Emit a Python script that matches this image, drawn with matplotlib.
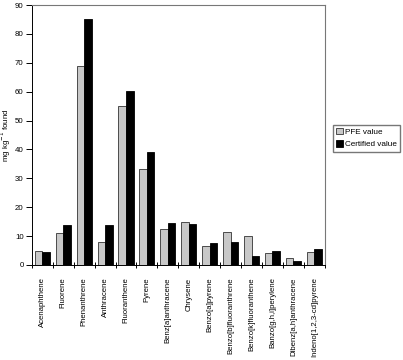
import numpy as np
import matplotlib.pyplot as plt

plt.rcParams['font.family'] = ['Liberation Sans', 'DejaVu Sans']

compounds = ['Acenaphthene', 'Fluorene', 'Phenanthrene', 'Anthracene', 'Fluoranthene',
             'Pyrene', 'Benz[a]anthracene', 'Chrysene', 'Benzo[a]pyrene',
             'Benzo[b]fluoranthrene', 'Benzo[k]fluoranthene', 'Banzo[g,h,i]perylene',
             'Dibenz[a,h]anthracene', 'Indeno[1,2,3-cd]pyrene']
pfe = [5.0, 11.0, 69.0, 8.0, 55.0, 33.4, 12.5, 15.0, 6.5, 11.3, 10.0, 4.3, 2.5, 4.5]
certified = [4.5, 14.0, 85.3, 14.0, 60.2, 39.2, 14.5, 14.3, 7.5, 8.0, 3.0, 5.0, 1.3, 5.6]

fig = plt.figure(figsize=(4.03, 3.6), dpi=100)
ax = fig.add_axes([0.079, 0.264, 0.727, 0.722])

x = np.arange(len(compounds))
w = 0.36
ax.bar(x - w / 2, pfe, w, color='#c8c8c8', edgecolor='#333333', linewidth=0.6, label='PFE value')
ax.bar(x + w / 2, certified, w, color='black', edgecolor='black', linewidth=0.6, label='Certified value')

ax.set_xlim(-0.5, len(compounds) - 0.5)
ax.set_ylim(0, 90)
ax.set_yticks(range(0, 91, 10))
ax.tick_params(axis='y', labelsize=5.7, length=4, width=0.7, pad=2)
ax.set_xticks(x)
ax.set_xticklabels(compounds, rotation=90, fontsize=5.6)
ax.tick_params(axis='x', length=0, pad=9)
ax.set_xticks(np.arange(-0.5, len(compounds) + 0.5, 1), minor=True)
ax.tick_params(axis='x', which='minor', length=5, direction='inout', width=0.7)
ax.set_ylabel('mg kg$^{-1}$ found', fontsize=5.7)
ax.yaxis.set_label_coords(-0.063, 0.5)

for side in ['top', 'right']:
    ax.spines[side].set_color('#777777')
    ax.spines[side].set_linewidth(0.8)
ax.spines['left'].set_linewidth(0.7)
ax.spines['bottom'].set_linewidth(0.7)

fig.legend(loc='upper left', bbox_to_anchor=(0.826, 0.653), fontsize=5.9,
           frameon=True, fancybox=False, edgecolor='#555555', handlelength=0.8,
           handleheight=0.8, handletextpad=0.3, borderpad=0.4, labelspacing=0.5,
           borderaxespad=0)

fig.savefig('out.png', dpi=100)
